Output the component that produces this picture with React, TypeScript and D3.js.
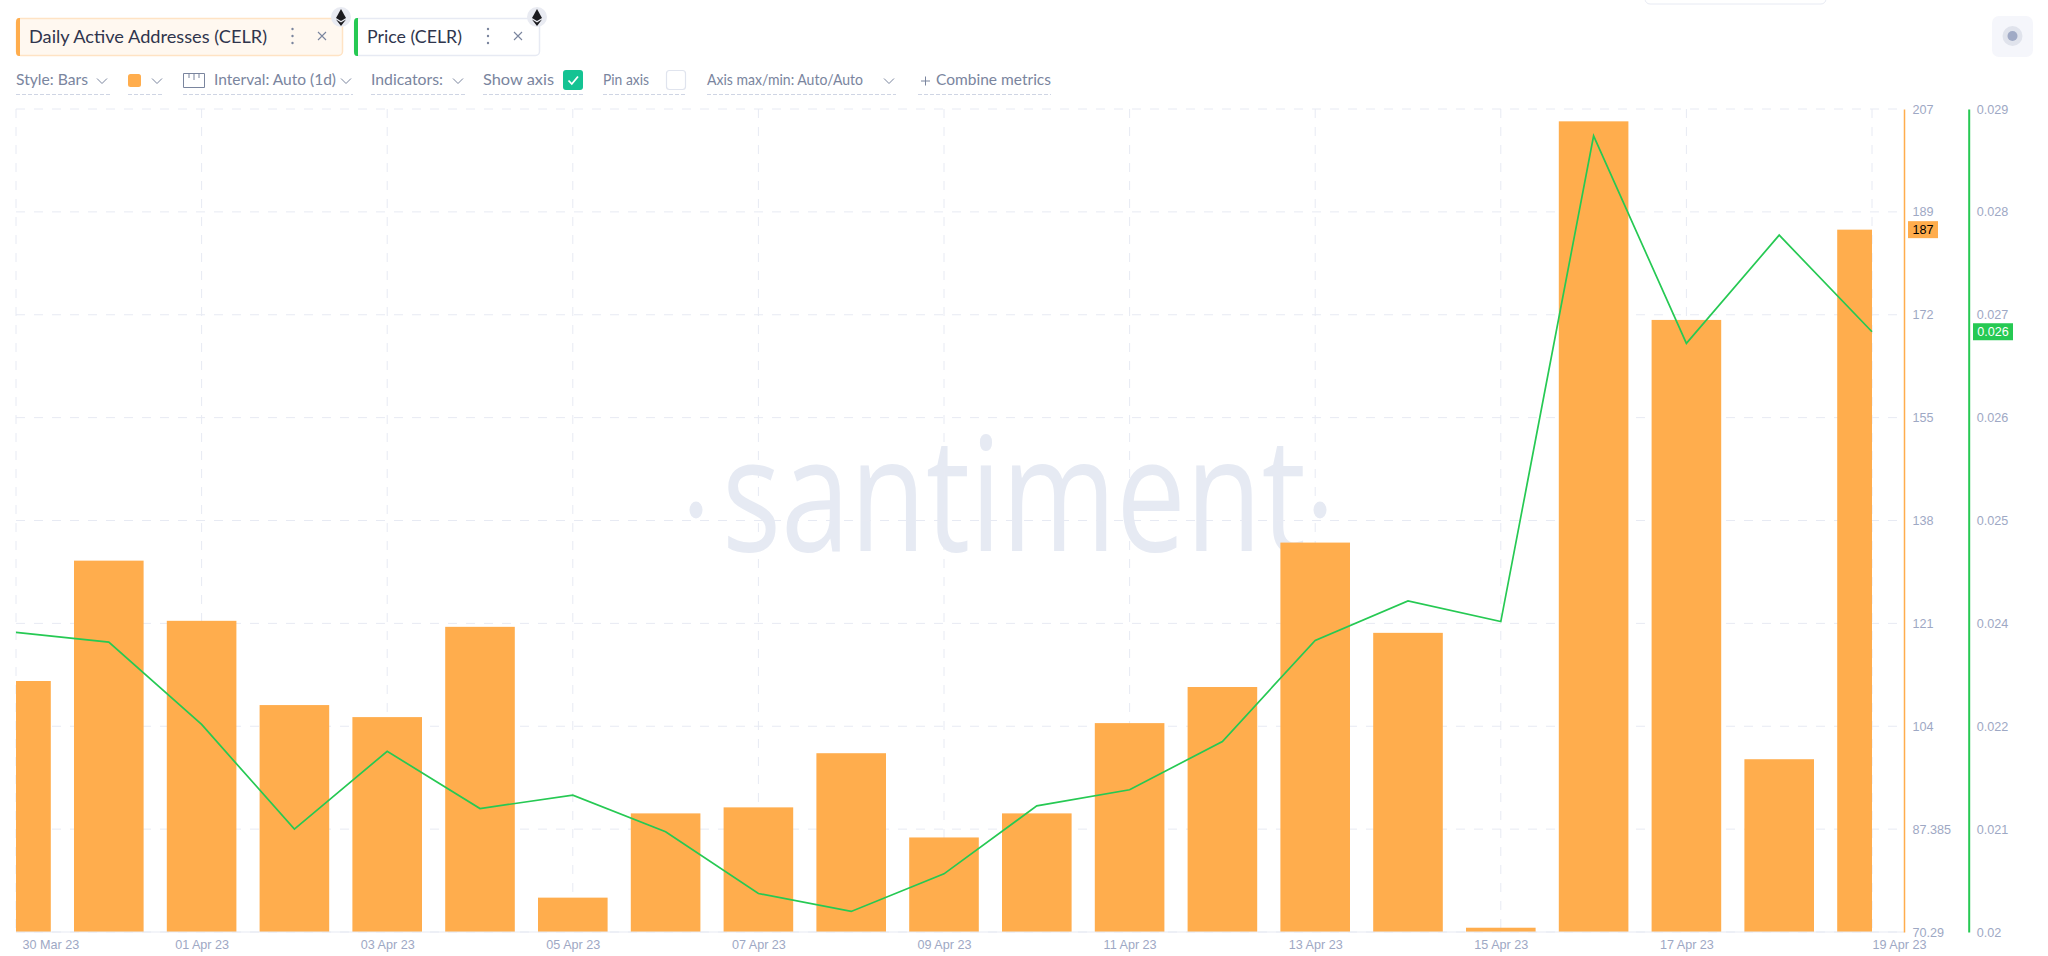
import React, { useRef, useEffect } from 'react';
import * as d3 from 'd3';

const dates = [
  '30 Mar 23', '31 Mar 23', '01 Apr 23', '02 Apr 23', '03 Apr 23', '04 Apr 23', '05 Apr 23',
  '06 Apr 23', '07 Apr 23', '08 Apr 23', '09 Apr 23', '10 Apr 23', '11 Apr 23', '12 Apr 23',
  '13 Apr 23', '14 Apr 23', '15 Apr 23', '16 Apr 23', '17 Apr 23', '18 Apr 23', '19 Apr 23',
];
const addresses = [112, 132, 122, 108, 106, 121, 76, 90, 91, 100, 86, 90, 105, 111, 135, 120, 71, 205, 172, 99, 187];
const prices = [
  0.02335, 0.02324, 0.02232, 0.02115, 0.02202, 0.02138, 0.02153, 0.02112, 0.02043, 0.02023, 0.02065,
  0.02141, 0.02159, 0.02213, 0.02326, 0.0237, 0.02347, 0.0289, 0.02658, 0.02779, 0.02671,
];
const addressTicks = ['70.29', '87.385', '104', '121', '138', '155', '172', '189', '207'];
const priceTicks = ['0.02', '0.021', '0.022', '0.024', '0.025', '0.026', '0.027', '0.028', '0.029'];

const ORANGE = '#ffad4d';
const GREEN = '#26c953';
const GRID = '#e7eaf3';
const TICK = '#9ea8c4';
const MUTED = '#7a859e';
const UI_FONT = 'Lato, sans-serif';
const TICK_FONT = '"Liberation Sans", sans-serif';

const width = 2048;
const height = 956;
const plot = { left: 16, right: 1904, top: 109, bottom: 932 };
const lastX = 1872;

// toolbar labels, x is where the text starts
const toolbar = [
  { label: 'Style: Bars', x: 16, w: 72, chevron: 102, ux: 16, uw: 94 },
  { label: 'Interval: Auto (1d)', x: 214, w: 122, chevron: 346, ux: 183, uw: 170 },
  { label: 'Indicators:', x: 371, w: 72, chevron: 458, ux: 371, uw: 95 },
  { label: 'Show axis', x: 483, w: 71, chevron: 0, ux: 483, uw: 100 },
  { label: 'Pin axis', x: 603, w: 46, chevron: 0, ux: 603, uw: 83 },
  { label: 'Axis max/min: Auto/Auto', x: 707, w: 156, chevron: 889, ux: 707, uw: 189 },
  { label: 'Combine metrics', x: 936, w: 115, chevron: 0, ux: 918, uw: 133 },
];

const Chevron = ({ x, y }: { x: number; y: number }) => (
  <path d={`M${x - 5},${y - 2.5}L${x},${y + 2.5}L${x + 5},${y - 2.5}`} fill="none" stroke={MUTED} strokeWidth={1} />
);

const EthBadge = ({ x, y }: { x: number; y: number }) => (
  <g>
    <circle cx={x} cy={y} r={10} fill="#e9ebf2" />
    <path d={`M${x},${y - 8}L${x + 5},${y + 1}L${x},${y + 4}L${x - 5},${y + 1}Z`} fill="#1b1b1f" />
    <path d={`M${x - 5},${y + 2.5}L${x},${y + 5.5}L${x + 5},${y + 2.5}L${x},${y + 9}Z`} fill="#1b1b1f" />
  </g>
);

const Tab = ({ x, w, color, fill, border, label, textW, dots, close }: any) => (
  <g>
    <rect x={x + 0.5} y={18.5} width={w} height={37} rx={4} fill={fill} stroke={border} strokeWidth={1.5} />
    <path d={`M${x + 4},18L${x + 4},56L${x + 3},56Q${x},56 ${x},52L${x},22Q${x},18 ${x + 3},18Z`} fill={color} />
    <text x={x + 13} y={43} fontFamily={UI_FONT} fontSize={18} fill="#2f354d" textLength={textW} lengthAdjust="spacingAndGlyphs">{label}</text>
    {[-7, 0, 7].map(d => <circle key={d} cx={dots} cy={36 + d} r={1.2} fill={MUTED} />)}
    <path d={`M${close - 4},${32}L${close + 4},${40}M${close + 4},${32}L${close - 4},${40}`} stroke={MUTED} strokeWidth={1.1} fill="none" />
  </g>
);

const Chart: React.FC = () => {
  const svgRef = useRef<SVGSVGElement | null>(null);

  useEffect(() => {
    if (!svgRef.current) return;
    const svg = d3.select(svgRef.current).select<SVGGElement>('g.plot');
    svg.selectAll('*').remove();

    const x = d3.scalePoint<string>().domain(dates).range([plot.left, lastX]);
    const step = x.step();
    const barWidth = step * 0.75;

    const yAddr = d3.scaleLinear().domain([70.29, 207.05]).range([plot.bottom, plot.top]);
    const yPrice = d3.scaleLinear().domain([0.02, 0.0292]).range([plot.bottom, plot.top]);
    // the tick labels are rounded, so they sit on even slots and not on their own value
    const addrSlots = d3.scalePoint<string>().domain(addressTicks).range([plot.bottom, plot.top]);
    const priceSlots = d3.scalePoint<string>().domain(priceTicks).range([plot.bottom, plot.top]);

    svg.append('defs').append('clipPath').attr('id', 'plot-clip')
      .append('rect')
      .attr('x', plot.left).attr('y', plot.top)
      .attr('width', lastX - plot.left).attr('height', plot.bottom - plot.top);

    // Watermark
    svg.append('text')
      .text('santiment')
      .attr('x', 722).attr('y', 551)
      .attr('textLength', 584).attr('lengthAdjust', 'spacingAndGlyphs')
      .attr('font-family', '"Open Sans", sans-serif')
      .attr('font-size', 159)
      .attr('fill', '#e6eaf3');
    svg.selectAll('ellipse')
      .data([696, 1320])
      .join('ellipse')
      .attr('cx', d => d).attr('cy', 510)
      .attr('rx', 6.5).attr('ry', 8.5)
      .attr('fill', '#e6eaf3');

    // Grid
    const grid = svg.append('g').attr('stroke', GRID).attr('stroke-dasharray', '9 9').attr('fill', 'none');
    grid.selectAll('line.h')
      .data(addressTicks)
      .join('line')
      .attr('class', 'h')
      .attr('x1', plot.left).attr('x2', plot.right)
      .attr('y1', d => addrSlots(d)!).attr('y2', d => addrSlots(d)!);
    grid.selectAll('line.v')
      .data(dates.filter((_, i) => i % 2 === 0))
      .join('line')
      .attr('class', 'v')
      .attr('x1', d => x(d)!).attr('x2', d => x(d)!)
      .attr('y1', plot.top).attr('y2', plot.bottom);

    // Bars
    const clipped = svg.append('g').attr('clip-path', 'url(#plot-clip)');
    clipped.selectAll('rect')
      .data(addresses)
      .join('rect')
      .attr('x', (_, i) => x(dates[i])! - barWidth / 2)
      .attr('width', barWidth)
      .attr('y', d => yAddr(d))
      .attr('height', d => plot.bottom - yAddr(d))
      .attr('fill', ORANGE);

    // Price line
    const line = d3.line<number>()
      .x((_, i) => x(dates[i])!)
      .y(d => yPrice(d));
    svg.append('path')
      .datum(prices)
      .attr('fill', 'none')
      .attr('stroke', GREEN)
      .attr('stroke-width', 1.7)
      .attr('d', line);

    // Bottom axis
    const bottom = svg.append('g')
      .attr('transform', `translate(0,${plot.bottom})`)
      .call(d3.axisBottom(x).tickValues(dates.filter((_, i) => i % 2 === 0)).tickSize(0).tickPadding(8));
    bottom.select('.domain').attr('stroke', GRID).attr('d', `M${plot.left},0H${plot.right}`);
    bottom.selectAll<SVGTextElement, string>('text')
      .attr('font-family', TICK_FONT)
      .attr('font-size', 12.6)
      .attr('fill', TICK)
      .attr('text-anchor', d => (d === dates[0] || d === dates[20] ? 'start' : 'middle'))
      .attr('dx', d => (d === dates[0] ? 6 : 0));

    // Value axes
    const styleAxis = (g: d3.Selection<SVGGElement, unknown, null, undefined>, color: string, w: number) => {
      g.select('.domain').attr('stroke', color).attr('stroke-width', w);
      g.selectAll('text')
        .attr('font-family', TICK_FONT)
        .attr('font-size', 12.6)
        .attr('fill', TICK);
    };
    const axisAddr = svg.append('g')
      .attr('transform', `translate(${plot.right},0)`)
      .call(d3.axisRight(addrSlots).tickSize(0).tickSizeOuter(0).tickPadding(8.5));
    styleAxis(axisAddr, ORANGE, 1.5);
    const axisPrice = svg.append('g')
      .attr('transform', `translate(1968.7,0)`)
      .call(d3.axisRight(priceSlots).tickSize(0).tickSizeOuter(0).tickPadding(8));
    styleAxis(axisPrice, GREEN, 2);

    // Last value tags
    const tags = [
      { label: String(addresses[20]), x: 1908, w: 30, y: yAddr(addresses[20]), fill: ORANGE, color: '#000' },
      { label: '0.026', x: 1973, w: 40, y: yPrice(prices[20]), fill: GREEN, color: '#fff' },
    ];
    const tag = svg.selectAll('g.tag').data(tags).join('g').attr('class', 'tag');
    tag.append('rect')
      .attr('x', d => d.x).attr('y', d => d.y - 8.5)
      .attr('width', d => d.w).attr('height', 17)
      .attr('fill', d => d.fill);
    tag.append('text')
      .text(d => d.label)
      .attr('x', d => d.x + d.w / 2).attr('y', d => d.y + 4.5)
      .attr('text-anchor', 'middle')
      .attr('font-family', TICK_FONT)
      .attr('font-size', 12.6)
      .attr('fill', d => d.color);
  }, []);

  return (
    <svg ref={svgRef} width={width} height={height} style={{ position: 'absolute', left: 0, top: 0, display: 'block' }}>
      <rect width={width} height={height} fill="#fff" />
      <rect x={1645} y={-10} width={181} height={14} rx={5} fill="#fff" stroke="#e7eaf3" />

      <Tab x={16} w={326} color={ORANGE} fill="#fff8f0" border="#ffe3c4" label="Daily Active Addresses (CELR)" textW={238} dots={292.5} close={322} />
      <EthBadge x={341} y={17} />
      <Tab x={354} w={185} color={GREEN} fill="#fff" border="#e7eaf3" label="Price (CELR)" textW={95} dots={488} close={518} />
      <EthBadge x={537} y={17} />

      {toolbar.map(t => (
        <g key={t.label}>
          <text x={t.x} y={85} fontFamily={UI_FONT} fontSize={15} fill={MUTED} textLength={t.w} lengthAdjust="spacingAndGlyphs">{t.label}</text>
          {t.chevron > 0 && <Chevron x={t.chevron} y={81} />}
          <line x1={t.ux} x2={t.ux + t.uw} y1={94.5} y2={94.5} stroke="#cfd5e4" strokeDasharray="4 2" />
        </g>
      ))}
      <rect x={128} y={74} width={13} height={13} rx={2.5} fill={ORANGE} />
      <Chevron x={157} y={81} />
      <line x1={128} x2={163} y1={94.5} y2={94.5} stroke="#cfd5e4" strokeDasharray="4 2" />
      <path d="M183.5,73.5H204.5V87.5H183.5ZM189,73.5V78M194,73.5V80M199,73.5V78" fill="none" stroke={MUTED} strokeWidth={1} />
      <rect x={563} y={70} width={20} height={20} rx={3} fill="#14c393" />
      <path d="M568.5,80.5L571.8,84L578,76.5" fill="none" stroke="#fff" strokeWidth={1.8} />
      <rect x={666.5} y={70.5} width={19} height={19} rx={3} fill="#fff" stroke="#e0e4ee" strokeWidth={1.2} />
      <path d="M921,81H930M925.5,76.5V85.5" stroke={MUTED} strokeWidth={1} />

      <rect x={1992} y={16} width={41} height={41} rx={7} fill="#f5f6fb" />
      <circle cx={2012.5} cy={36} r={10} fill="#e0e3ec" />
      <circle cx={2012.5} cy={36} r={5} fill="#a0aac5" />

      <g className="plot" />
    </svg>
  );
};

export default function App() {
  return <Chart />;
}
